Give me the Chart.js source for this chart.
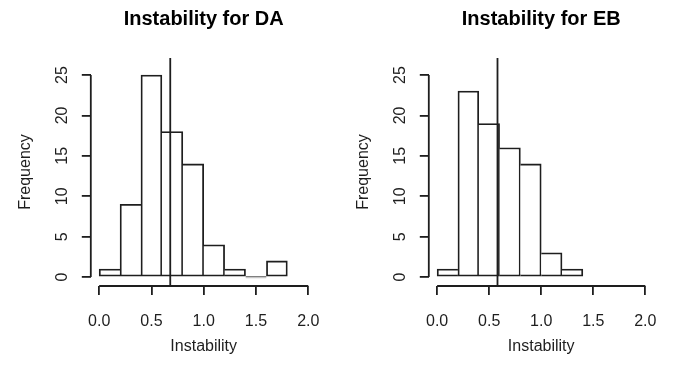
<!DOCTYPE html>
<html>
<head>
<meta charset="utf-8">
<script src="https://cdn.jsdelivr.net/npm/chart.js@4/dist/chart.umd.min.js"></script>
<style>
  body { margin: 0; background: #fff; }
  canvas { position: absolute; top: 0; }
  #chartDA { left: 0; }
  #chartEB { left: 338px; }
</style>
</head>
<body>
<canvas id="chartDA" width="337" height="367"></canvas>
<canvas id="chartEB" width="336" height="367"></canvas>
<script>
'use strict';

// histogram breaks and counts
const daBreaks = [0, 0.2, 0.4, 0.6, 0.8, 1.0, 1.2, 1.4, 1.6, 1.8];
const daCounts = [1, 9, 25, 18, 14, 4, 1, 0, 2];
const daMean = 0.68;

const ebBreaks = [0, 0.2, 0.4, 0.6, 0.8, 1.0, 1.2, 1.4];
const ebCounts = [1, 23, 19, 16, 14, 3, 1];
const ebMean = 0.58;

const xTicks = [0, 0.5, 1.0, 1.5, 2.0];
const yTicks = [0, 5, 10, 15, 20, 25];

const ink = '#1e1e1e';
const lineW = 1.8;
const fontFamily = "'Liberation Sans', Arial, sans-serif";

// R-style axes: lines only span the first to last tick, plus the vertical mean line
// and the main title centred over the plot area
const rAxes = {
  id: 'rAxes',
  afterDatasetsDraw(chart, args, opts) {
    const ctx = chart.ctx;
    const x = chart.scales.x;
    const y = chart.scales.y;
    const area = chart.chartArea;
    ctx.save();
    ctx.strokeStyle = ink;
    ctx.lineWidth = lineW;
    ctx.beginPath();
    ctx.moveTo(x.getPixelForValue(xTicks[0]), area.bottom);
    ctx.lineTo(x.getPixelForValue(xTicks[xTicks.length - 1]), area.bottom);
    ctx.moveTo(area.left, y.getPixelForValue(yTicks[0]));
    ctx.lineTo(area.left, y.getPixelForValue(yTicks[yTicks.length - 1]));
    const mx = x.getPixelForValue(opts.mean);
    ctx.moveTo(mx, area.top);
    ctx.lineTo(mx, area.bottom);
    ctx.stroke();

    ctx.fillStyle = '#000';
    ctx.font = 'bold 20px ' + fontFamily;
    ctx.textAlign = 'center';
    ctx.textBaseline = 'middle';
    ctx.fillText(opts.title, (area.left + area.right) / 2, 19);
    ctx.restore();
  }
};

function makeHist(canvasId, title, breaks, counts, mean, rightPad) {
  const points = counts.map((c, i) => ({ x: (breaks[i] + breaks[i + 1]) / 2, y: c }));

  // each shared edge is drawn once, by the taller bar
  const edges = ctx => {
    const i = ctx.dataIndex;
    const c = counts[i];
    if (c === 0) return { top: lineW, bottom: lineW, left: 0, right: 0 };
    const prev = i > 0 ? counts[i - 1] : -1;
    const next = i < counts.length - 1 ? counts[i + 1] : -1;
    return {
      top: lineW,
      bottom: lineW,
      left: prev <= c ? lineW : 0,
      right: next < c ? lineW : 0
    };
  };

  new Chart(document.getElementById(canvasId), {
    type: 'bar',
    data: {
      datasets: [{
        data: points,
        backgroundColor: '#ffffff',
        borderColor: ink,
        borderWidth: edges,
        borderSkipped: false,
        minBarLength: lineW,
        barPercentage: 1,
        categoryPercentage: 1
      }]
    },
    options: {
      responsive: false,
      animation: false,
      layout: { padding: { left: 0, right: rightPad, top: 58, bottom: 0 } },
      plugins: {
        legend: { display: false },
        tooltip: { enabled: false },
        title: { display: false },
        rAxes: { mean: mean, title: title }
      },
      scales: {
        x: {
          type: 'linear',
          min: -0.08,
          max: 2.08,
          offset: false,
          afterBuildTicks: s => { s.ticks = xTicks.map(v => ({ value: v })); },
          afterFit: s => { s.height = 81; },
          ticks: {
            color: ink,
            padding: 17,
            maxRotation: 0,
            autoSkip: false,
            font: { family: fontFamily, size: 16 },
            callback: v => v.toFixed(1)
          },
          grid: { offset: false, drawOnChartArea: false, tickLength: 9, tickColor: ink, lineWidth: lineW },
          border: { display: false },
          title: {
            display: true,
            text: 'Instability',
            color: ink,
            font: { family: fontFamily, size: 16 },
            padding: { top: 0, bottom: 11 }
          }
        },
        y: {
          min: -1.1,
          max: 27.1,
          afterBuildTicks: s => { s.ticks = yTicks.map(v => ({ value: v })); },
          afterFit: s => { s.width = 90.8; },
          ticks: {
            color: ink,
            padding: 10,
            minRotation: 90,
            maxRotation: 90,
            crossAlign: 'center',
            autoSkip: false,
            font: { family: fontFamily, size: 16 }
          },
          grid: { drawOnChartArea: false, tickLength: 9, tickColor: ink, lineWidth: lineW },
          border: { display: false },
          title: {
            display: true,
            text: 'Frequency',
            color: ink,
            font: { family: fontFamily, size: 16 },
            padding: { top: 16.4, bottom: 0 }
          }
        }
      }
    },
    plugins: [rAxes]
  });
}

makeHist('chartDA', 'Instability for DA', daBreaks, daCounts, daMean, 16.8);
makeHist('chartEB', 'Instability for EB', ebBreaks, ebCounts, ebMean, 15.8);
</script>
</body>
</html>
